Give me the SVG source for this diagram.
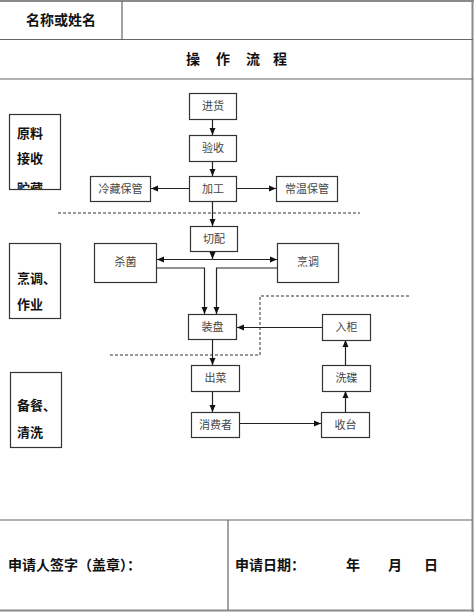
<svg xmlns="http://www.w3.org/2000/svg" width="474" height="612" viewBox="0 0 474 612">
<style>
.frame{stroke:#8a8a8a;stroke-width:2;fill:none}
.inner{stroke:#666;stroke-width:1.2;fill:none}
.box{fill:#fff;stroke:#333;stroke-width:1.2}
.lbl{font-family:"Liberation Serif","Noto Sans CJK SC",serif;font-size:11px;fill:#444;text-anchor:middle}
.side{font-family:"Liberation Sans","Noto Sans CJK SC",sans-serif;font-size:13px;font-weight:bold;fill:#111}
.hdr{font-family:"Liberation Sans","Noto Sans CJK SC",sans-serif;font-size:14px;font-weight:bold;fill:#111}
.conn{stroke:#222;stroke-width:1.2;fill:none}
.dash{stroke:#333;stroke-width:1;stroke-dasharray:3,2;fill:none}
</style>
<defs>
<marker id="ah" markerWidth="8" markerHeight="8" refX="7" refY="4" orient="auto" markerUnits="userSpaceOnUse">
<path d="M0,1 L7,4 L0,7 Z" fill="#111"/>
</marker>
<clipPath id="clip1"><rect x="9" y="114" width="51" height="75"/></clipPath>
</defs>
<rect width="474" height="612" fill="#fff"/>
<g id="table">
<line class="frame" x1="0" y1="1" x2="474" y2="1"/>
<line class="frame" x1="472.5" y1="0" x2="472.5" y2="612"/>
<line class="frame" x1="0" y1="610.5" x2="474" y2="610.5"/>
<line class="inner" x1="0" y1="39.5" x2="473" y2="39.5"/>
<line class="inner" x1="122" y1="1" x2="122" y2="39.5"/>
<line class="inner" x1="0" y1="79" x2="473" y2="79"/>
<line class="inner" x1="0" y1="520" x2="473" y2="520"/>
<line class="inner" x1="228" y1="520" x2="228" y2="610"/>
<text class="hdr" x="61" y="25" text-anchor="middle">名称或姓名</text>
<text class="hdr" x="186" y="64">操</text>
<text class="hdr" x="216" y="64">作</text>
<text class="hdr" x="246" y="64">流</text>
<text class="hdr" x="273" y="64">程</text>
<text class="hdr" x="8" y="570">申请人签字（盖章）：</text>
<text class="hdr" x="235" y="570">申请日期：</text>
<text class="hdr" x="346" y="570">年</text>
<text class="hdr" x="388" y="570">月</text>
<text class="hdr" x="424" y="570">日</text>
</g>
<g id="stage1">
<rect class="box" x="9.5" y="114.5" width="51" height="75"/>
<text class="side" x="17" y="138">原料</text>
<text class="side" x="17" y="163">接收</text>
<text class="side" x="17" y="193" clip-path="url(#clip1)">贮藏</text>
</g>
<g id="stage2">
<rect class="box" x="9.5" y="243.5" width="51" height="75"/>
<text class="side" x="17" y="283">烹调、</text>
<text class="side" x="17" y="309">作业</text>
</g>
<g id="stage3">
<rect class="box" x="10.5" y="372.5" width="51" height="75"/>
<text class="side" x="17" y="410">备餐、</text>
<text class="side" x="17" y="437">清洗</text>
</g>
<g id="dividers">
<line class="dash" x1="58" y1="213" x2="360" y2="213"/>
<polyline class="dash" points="110,355 260,355 260,296 411,296"/>
</g>
<g id="connectors">
<line class="conn" x1="212.5" y1="119" x2="212.5" y2="135" marker-end="url(#ah)"/>
<line class="conn" x1="212.5" y1="161" x2="212.5" y2="176" marker-end="url(#ah)"/>
<line class="conn" x1="189" y1="188.5" x2="151" y2="188.5" marker-end="url(#ah)"/>
<line class="conn" x1="236" y1="188.5" x2="276" y2="188.5" marker-end="url(#ah)"/>
<line class="conn" x1="212.5" y1="201" x2="212.5" y2="226" marker-end="url(#ah)"/>
<line class="conn" x1="212.5" y1="251" x2="212.5" y2="259" marker-end="url(#ah)"/>
<line class="conn" x1="212.5" y1="259.5" x2="157" y2="259.5" stroke-width="2" marker-end="url(#ah)"/>
<line class="conn" x1="212.5" y1="259.5" x2="277" y2="259.5" stroke-width="2" marker-end="url(#ah)"/>
<polyline class="conn" points="156,268 204.5,268 204.5,314" marker-end="url(#ah)"/>
<polyline class="conn" points="277,268 216.5,268 216.5,314" marker-end="url(#ah)"/>
<line class="conn" x1="322" y1="327.5" x2="237" y2="327.5" marker-end="url(#ah)"/>
<line class="conn" x1="212.5" y1="340" x2="212.5" y2="365" marker-end="url(#ah)"/>
<line class="conn" x1="212.5" y1="391" x2="212.5" y2="412" marker-end="url(#ah)"/>
<line class="conn" x1="239" y1="423.5" x2="321" y2="423.5" marker-end="url(#ah)"/>
<line class="conn" x1="345.5" y1="412" x2="345.5" y2="391" marker-end="url(#ah)"/>
<line class="conn" x1="345.5" y1="365" x2="345.5" y2="340" marker-end="url(#ah)"/>
</g>
<g id="n-jinhuo"><rect class="box" x="189.5" y="93.5" width="47" height="26"/><text class="lbl" x="213" y="110">进货</text></g>
<g id="n-yanshou"><rect class="box" x="189.5" y="135.5" width="47" height="26"/><text class="lbl" x="213" y="152">验收</text></g>
<g id="n-jiagong"><rect class="box" x="189.5" y="176.5" width="47" height="25"/><text class="lbl" x="213" y="193">加工</text></g>
<g id="n-lengcang"><rect class="box" x="90.5" y="176.5" width="60" height="25"/><text class="lbl" x="120.5" y="193">冷藏保管</text></g>
<g id="n-changwen"><rect class="box" x="276.5" y="176.5" width="61" height="25"/><text class="lbl" x="307" y="193">常温保管</text></g>
<g id="n-qiepei"><rect class="box" x="190.5" y="226.5" width="47" height="25"/><text class="lbl" x="214" y="243">切配</text></g>
<g id="n-shajun"><rect class="box" x="94.5" y="243.5" width="62" height="39"/><text class="lbl" x="125.5" y="266">杀菌</text></g>
<g id="n-pengtiao"><rect class="box" x="277.5" y="243.5" width="61" height="39"/><text class="lbl" x="308" y="266">烹调</text></g>
<g id="n-zhuangpan"><rect class="box" x="188.5" y="314.5" width="48" height="25"/><text class="lbl" x="212.5" y="331">装盘</text></g>
<g id="n-rugui"><rect class="box" x="322.5" y="314.5" width="48" height="26"/><text class="lbl" x="346.5" y="331">入柜</text></g>
<g id="n-chucai"><rect class="box" x="191.5" y="365.5" width="48" height="26"/><text class="lbl" x="215.5" y="382">出菜</text></g>
<g id="n-xidie"><rect class="box" x="322.5" y="365.5" width="48" height="26"/><text class="lbl" x="346.5" y="382">洗碟</text></g>
<g id="n-xiaofeizhe"><rect class="box" x="191.5" y="412.5" width="48" height="25"/><text class="lbl" x="215.5" y="429">消费者</text></g>
<g id="n-shoutai"><rect class="box" x="321.5" y="412.5" width="48" height="25"/><text class="lbl" x="345.5" y="429">收台</text></g>
</svg>
